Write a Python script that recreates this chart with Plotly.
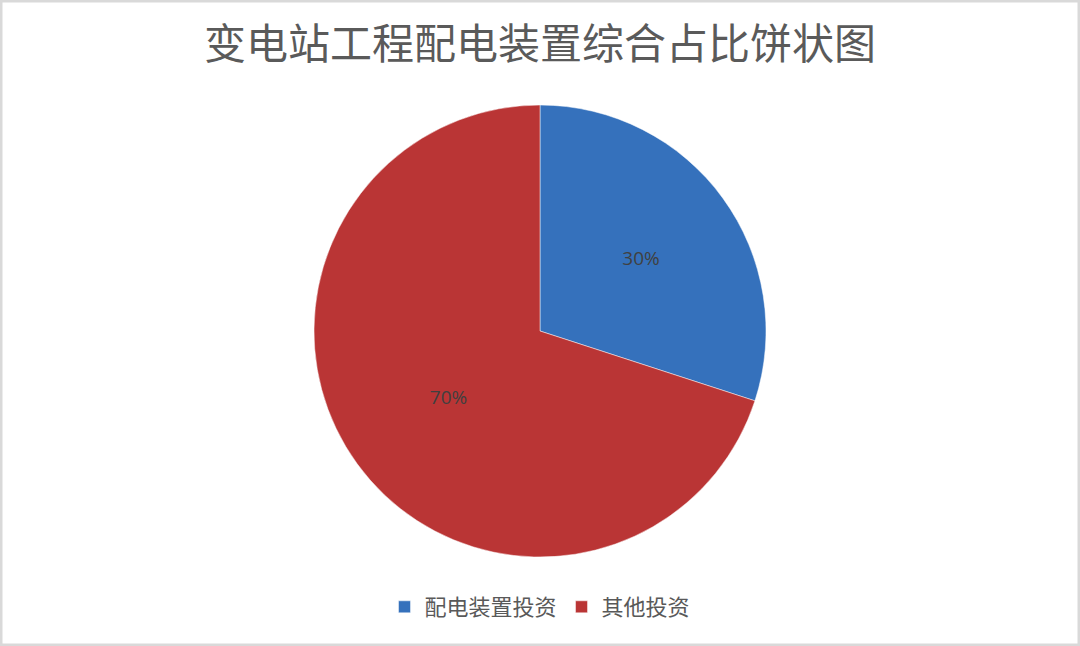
import plotly.graph_objects as go

# data
labels = ["配电装置投资", "其他投资"]
values = [30, 70]
colors = ["#3571BC", "#BA3535"]

title_text = "变电站工程配电装置综合占比饼状图"

fig = go.Figure()

fig.add_trace(go.Pie(
    labels=labels,
    values=values,
    sort=False,
    direction="clockwise",
    rotation=0,
    marker=dict(colors=colors, line=dict(color="rgba(255,255,255,0.6)", width=0.8)),
    texttemplate="%{percent:.0%}",
    textposition="inside",
    insidetextorientation="horizontal",
    textfont=dict(family="Open Sans", size=19, color="#404040"),
    domain=dict(x=[314 / 1080, 766 / 1080], y=[89 / 646, 541 / 646]),
    hoverinfo="label+percent",
))

fig.update_layout(
    width=1080,
    height=646,
    margin=dict(l=0, r=0, t=0, b=0),
    paper_bgcolor="white",
    plot_bgcolor="white",
    title=dict(
        text=title_text,
        x=0.5, xanchor="center",
        y=1 - 44 / 646, yanchor="middle",
        yref="container",
        font=dict(family="Noto Sans CJK SC", size=42, color="#5A5A5A"),
    ),
    legend=dict(
        orientation="h",
        x=0.5, xanchor="center",
        y=1 - 607 / 646, yanchor="middle",
        font=dict(family="Noto Sans CJK SC", size=22, color="#595959"),
    ),
    showlegend=True,
    shapes=[dict(
        type="rect", xref="paper", yref="paper",
        x0=0, y0=0, x1=1, y1=1,
        line=dict(color="#D9D9D9", width=5),
        fillcolor="rgba(0,0,0,0)",
    )],
)

# drop the default page margin so the figure sits at the window edge
fig.write_html("out.html", config={"displayModeBar": False},
               post_script="document.body.style.margin='0';")
